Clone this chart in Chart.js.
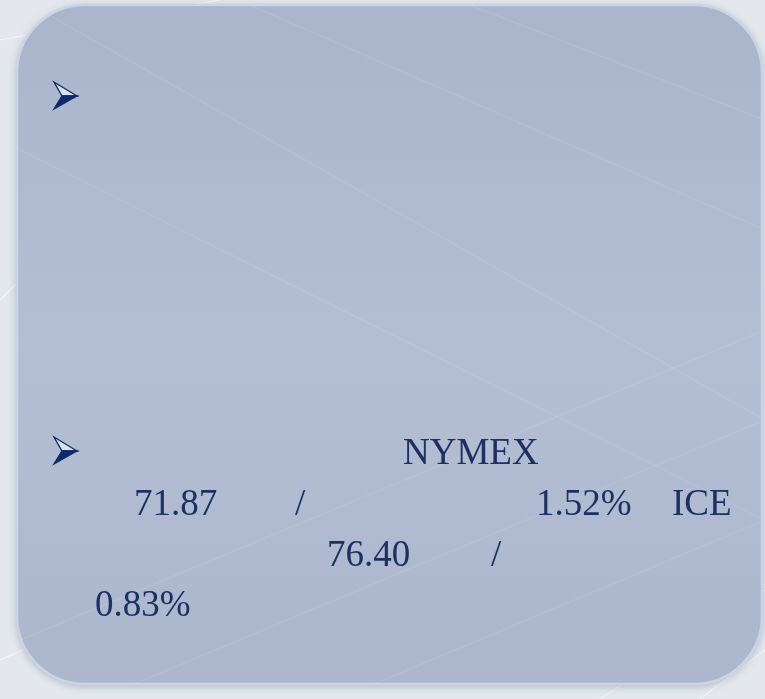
<!DOCTYPE html>
<html>
<head>
<meta charset="utf-8">
<script src="https://cdn.jsdelivr.net/npm/chart.js@4"></script>
<style>
  html, body { margin: 0; padding: 0; background: #e4e8ee; }
  #wrap { position: relative; width: 765px; height: 699px; overflow: hidden; }
  #slide { position: absolute; left: 0; top: 0; }
  .t {
    position: absolute;
    font-family: "Liberation Serif", "Times New Roman", serif;
    font-size: 37px;
    line-height: 1;
    color: #1c3063;
    white-space: nowrap;
  }
</style>
</head>
<body>
<div id="wrap">
  <canvas id="slide" width="765" height="699"></canvas>
</div>
<script>
// values shown in the slide text
const exchanges = ['NYMEX', 'ICE'];
const prices = ['71.87', '76.40'];
const changes = ['1.52%', '0.83%'];
const separators = ['/', '/'];

document.addEventListener('DOMContentLoaded', function () {
  const wrap = document.getElementById('wrap');

  // arrowhead bullet: outlined upper half, solid lower half
  function bullet(ctx, x, y) {
    const top = [x, y], tip = [x + 23, y + 14], bot = [x, y + 27], notch = [x + 8, y + 14];
    ctx.lineJoin = 'miter';
    ctx.fillStyle = '#d9e0ee';
    ctx.strokeStyle = '#0e2a6c';
    ctx.lineWidth = 1.3;
    ctx.beginPath();
    ctx.moveTo(...top); ctx.lineTo(...tip); ctx.lineTo(...notch); ctx.closePath();
    ctx.fill(); ctx.stroke();
    ctx.fillStyle = '#0e2a6c';
    ctx.beginPath();
    ctx.moveTo(...notch); ctx.lineTo(...tip); ctx.lineTo(...bot); ctx.closePath();
    ctx.fill(); ctx.stroke();
  }

  // slide background + rounded panel, drawn before the (empty) chart area
  const slideBg = {
    id: 'slideBg',
    beforeDraw(chart) {
      const ctx = chart.ctx;
      const w = chart.width, h = chart.height;
      ctx.save();
      ctx.fillStyle = '#e4e8ee';
      ctx.fillRect(0, 0, w, h);

      // faint streaks on the backdrop
      ctx.strokeStyle = 'rgba(255,255,255,0.5)';
      ctx.lineWidth = 1.2;
      [[0, 40, 220, 0], [0, 300, 60, 240], [0, 660, 140, 600], [600, 699, 765, 590], [700, 699, 765, 650]].forEach(l => {
        ctx.beginPath(); ctx.moveTo(l[0], l[1]); ctx.lineTo(l[2], l[3]); ctx.stroke();
      });

      // panel
      const x = 17, y = 5, pw = 745, ph = 679, r = 68;
      ctx.shadowColor = 'rgba(60,70,90,0.35)';
      ctx.shadowBlur = 10;
      ctx.shadowOffsetY = 2;
      const g = ctx.createLinearGradient(0, y, 0, y + ph);
      g.addColorStop(0, '#aab5cc');
      g.addColorStop(0.5, '#b4bed3');
      g.addColorStop(1, '#acb7ce');
      ctx.fillStyle = g;
      ctx.beginPath();
      ctx.roundRect(x, y, pw, ph, r);
      ctx.fill();
      ctx.shadowColor = 'transparent';
      ctx.lineWidth = 2.5;
      ctx.strokeStyle = '#cbd4e6';
      ctx.stroke();

      // light diagonal streaks inside the panel
      ctx.save();
      ctx.clip();
      ctx.strokeStyle = 'rgba(255,255,255,0.08)';
      ctx.lineWidth = 1.5;
      [[40, 10, 765, 420], [250, 5, 765, 230], [470, 5, 765, 120], [20, 150, 765, 520],
       [20, 640, 765, 330], [120, 690, 765, 420], [360, 690, 765, 520]].forEach(l => {
        ctx.beginPath(); ctx.moveTo(l[0], l[1]); ctx.lineTo(l[2], l[3]); ctx.stroke();
      });
      ctx.restore();

      bullet(ctx, 54, 82);
      bullet(ctx, 54, 437);
      ctx.restore();
    }
  };

  new Chart(document.getElementById('slide'), {
    type: 'scatter',
    data: { datasets: [] },
    options: {
      responsive: false,
      animation: false,
      events: [],
      plugins: { legend: { display: false }, tooltip: { enabled: false } },
      scales: { x: { display: false }, y: { display: false } }
    },
    plugins: [slideBg]
  });

  // text placed by left edge and baseline
  function put(text, left, baseline, size) {
    const el = document.createElement('span');
    el.className = 't';
    el.textContent = text;
    el.style.left = left + 'px';
    el.style.top = (baseline - 0.8375 * size) + 'px';
    wrap.appendChild(el);
    return el;
  }

  put(exchanges[0], 403, 464, 37);
  put(prices[0], 134, 515, 37);
  put(separators[0], 295, 515, 37);
  put(changes[0], 536, 515, 37);
  put(exchanges[1], 672, 515, 37);
  put(prices[1], 327, 566, 37);
  put(separators[1], 491, 566, 37);
  put(changes[1], 95, 616, 37);
});
</script>
</body>
</html>
